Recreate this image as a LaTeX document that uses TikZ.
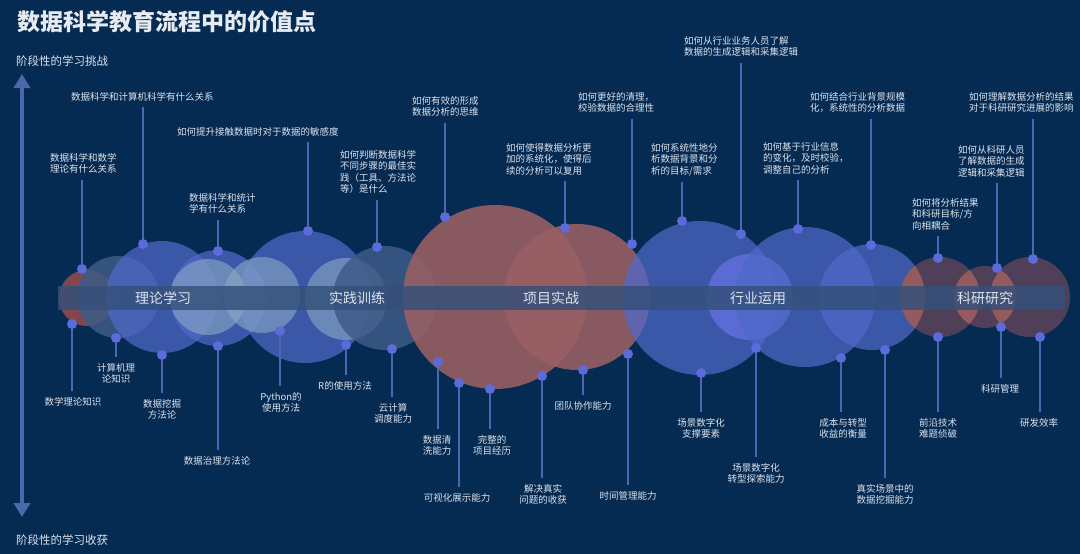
\documentclass[tikz,border=0pt]{standalone}
\usepackage{fontspec}
\setmainfont{Noto Sans CJK SC}
\usetikzlibrary{arrows.meta}
\definecolor{bgc}{HTML}{062B52}
\definecolor{titlec}{HTML}{E6EBF2}
\definecolor{textc}{HTML}{DCE3EE}
\definecolor{axisc}{HTML}{4A68AA}
\definecolor{pinc}{HTML}{4A66B4}
\definecolor{dotc}{HTML}{5B6BDA}
\definecolor{bluec}{HTML}{5069C9}
\definecolor{lightc}{HTML}{8AA8C4}
\definecolor{slatec}{HTML}{3E5B88}
\definecolor{redc}{HTML}{9A6064}
\definecolor{redsmall}{HTML}{8E4B4F}
\definecolor{brightc}{HTML}{6270E0}
\definecolor{maroonc}{HTML}{57415A}
\definecolor{lensc}{HTML}{A0605F}
\definecolor{bandc}{HTML}{34507A}
\newcommand{\TopPin}[6]{%
  \node[qlabel, anchor=north west] (t#1) at (#2,{#3-6}) {#4};
  \node[pindot] (d#1) at (#5,#6) {};
  \draw[pinline, shorten <=4pt] (t#1.south -| d#1) -- (d#1);
}
\newcommand{\BotPin}[6]{%
  \node[pindot] (b#1) at (#2,#3) {};
  \node[glabel, anchor=north] (g#1) at (#4,{#5-6}) {#6};
  \draw[pinline, shorten >=4pt] (b#1) -- (b#1 |- g#1.north);
}
\begin{document}
\begin{tikzpicture}[x=1pt,y=-1pt,
  qlabel/.style={align=left, inner sep=2pt, text=textc, font=\fontsize{9.5}{11.5}\selectfont},
  glabel/.style={align=center, inner sep=2pt, text=textc, font=\fontsize{9.5}{11.5}\selectfont},
  pindot/.style={circle, fill=dotc, inner sep=0pt, minimum size=10pt},
  pinline/.style={draw=pinc, line width=1.3pt},
  stage/.style={text=textc, font=\fontsize{14}{16}\selectfont, inner sep=1pt},
  cblue/.style={fill=bluec, fill opacity=0.72},
  clight/.style={fill=lightc, fill opacity=0.62},
  cslate/.style={fill=slatec, fill opacity=0.85},
  cred/.style={fill=redc, fill opacity=0.88},
  cbright/.style={fill=brightc, fill opacity=0.8},
  cmaroon/.style={fill=maroonc, fill opacity=0.92},
  axisarrow/.style={draw=axisc, line width=4pt, {Triangle[width=16pt,length=14pt]}-{Triangle[width=16pt,length=14pt]}}
]
\fill[bgc] (0,0) rectangle (1080,554);
\useasboundingbox (0,0) rectangle (1080,554);

% title and axis
\node[anchor=west, inner sep=0pt, text=titlec, font=\fontsize{23}{26}\selectfont\bfseries] (title) at (17,22) {数据科学教育流程中的价值点};
\node[anchor=west, inner sep=0pt, text=textc, font=\fontsize{11.5}{13}\selectfont] (axtop) at (16,61) {阶段性的学习挑战};
\node[anchor=west, inner sep=0pt, text=textc, font=\fontsize{11.5}{13}\selectfont] (axbot) at (16,540) {阶段性的学习收获};
\coordinate (atop) at (22,74);
\coordinate (abot) at (22,517);
\draw[axisarrow] (atop) -- (abot);

% circles: theory
\fill[fill=redsmall, fill opacity=0.9] (87,298) circle[radius=28pt];
\fill[cslate] (118,297) circle[radius=41pt];
\fill[cblue] (162,297) circle[radius=56pt];
\fill[cblue] (218,298) circle[radius=48pt];
\fill[cblue] (305,297) circle[radius=66pt];
\fill[clight] (208,297) circle[radius=38pt];
\fill[clight] (262,295) circle[radius=38pt];
% practice
\fill[clight] (346,299) circle[radius=41pt];
\fill[cslate] (385,298) circle[radius=52pt];
% project
\fill[cred] (495,297) circle[radius=92pt];
\fill[cred] (577,297) circle[radius=73pt];
% industry
\fill[cblue] (700,298) circle[radius=77pt];
\fill[cbright] (750,297) circle[radius=43pt];
\fill[cblue] (805,297) circle[radius=70pt];
\fill[cblue] (872,297) circle[radius=53pt];
% research
\fill[cmaroon] (940,297) circle[radius=40pt];
\fill[cmaroon] (985,297) circle[radius=31pt];
\fill[cmaroon] (1030,297) circle[radius=40pt];
\begin{scope}
  \clip (872,297) circle[radius=53pt];
  \fill[lensc, fill opacity=0.85] (940,297) circle[radius=40pt];
\end{scope}
\begin{scope}
  \clip (940,297) circle[radius=40pt];
  \fill[lensc, fill opacity=0.85] (985,297) circle[radius=31pt];
\end{scope}
\begin{scope}
  \clip (985,297) circle[radius=31pt];
  \fill[lensc, fill opacity=0.85] (1030,297) circle[radius=40pt];
\end{scope}

% band
\fill[bandc, fill opacity=0.82] (58,286) rectangle (1065,310);
\node[stage] (s1) at (163,298) {理论学习};
\node[stage] (s2) at (357,298) {实践训练};
\node[stage] (s3) at (551,298) {项目实战};
\node[stage] (s4) at (758,298) {行业运用};
\node[stage] (s5) at (985,298) {科研研究};

% top pins (challenges)
\TopPin{1}{48}{157}{数据科学和数学\\理论有什么关系}{82}{269}
\TopPin{2}{69}{96}{数据科学和计算机科学有什么关系}{143}{244}
\TopPin{3}{175}{131}{如何提升接触数据时对于数据的敏感度}{308}{231}
\TopPin{4}{187}{197}{数据科学和统计\\学有什么关系}{218}{251}
\TopPin{5}{338}{154}{如何判断数据科学\\不同步骤的最佳实\\践（工具、方法论\\等）是什么}{377}{247}
\TopPin{6}{410}{100}{如何有效的形成\\数据分析的思维}{445}{217}
\TopPin{7}{504}{147}{如何使得数据分析更\\加的系统化，使得后\\续的分析可以复用}{565}{228}
\TopPin{8}{576}{96}{如何更好的清理，\\校验数据的合理性}{632}{244}
\TopPin{9}{649}{147}{如何系统性地分\\析数据背景和分\\析的目标/需求}{682}{221}
\TopPin{10}{682}{40}{如何从行业业务人员了解\\数据的生成逻辑和采集逻辑}{741}{234}
\TopPin{11}{761}{146}{如何基于行业信息\\的变化，及时校验，\\调整自己的分析}{798}{229}
\TopPin{12}{808}{96}{如何结合行业背景规模\\化，系统性的分析数据}{871}{245}
\TopPin{13}{910}{202}{如何将分析结果\\和科研目标/方\\向相耦合}{938}{258}
\TopPin{14}{956}{149}{如何从科研人员\\了解数据的生成\\逻辑和采集逻辑}{997}{268}
\TopPin{15}{967}{96}{如何理解数据分析的结果\\对于科研研究进展的影响}{1033}{259}

% bottom pins (gains)
\BotPin{1}{72}{324}{73}{401}{数学理论知识}
\BotPin{2}{116}{338}{116}{367}{计算机理\\论知识}
\BotPin{3}{162}{355}{162}{403}{数据挖掘\\方法论}
\BotPin{4}{218}{346}{217}{460}{数据治理方法论}
\BotPin{5}{280}{331}{281}{396}{Python的\\使用方法}
\BotPin{6}{346}{345}{345}{385}{R的使用方法}
\BotPin{7}{392}{349}{393}{407}{云计算\\调度能力}
\BotPin{8}{438}{362}{437}{439}{数据清\\洗能力}
\BotPin{9}{459}{383}{457}{497}{可视化展示能力}
\BotPin{10}{490}{389}{492}{439}{完整的\\项目经历}
\BotPin{11}{542}{376}{543}{488}{解决真实\\问题的收获}
\BotPin{12}{583}{370}{583}{405}{团队协作能力}
\BotPin{13}{628}{354}{628}{495}{时间管理能力}
\BotPin{14}{701}{373}{701}{422}{场景数字化\\支撑要素}
\BotPin{15}{756}{348}{756}{467}{场景数字化\\转型探索能力}
\BotPin{16}{841}{358}{843}{422}{成本与转型\\收益的衡量}
\BotPin{17}{885}{350}{885}{488}{真实场景中的\\数据挖掘能力}
\BotPin{18}{938}{337}{938}{422}{前沿技术\\难题侦破}
\BotPin{19}{1001}{327}{1000}{388}{科研管理}
\BotPin{20}{1040}{337}{1039}{422}{研发效率}
\end{tikzpicture}
\end{document}
